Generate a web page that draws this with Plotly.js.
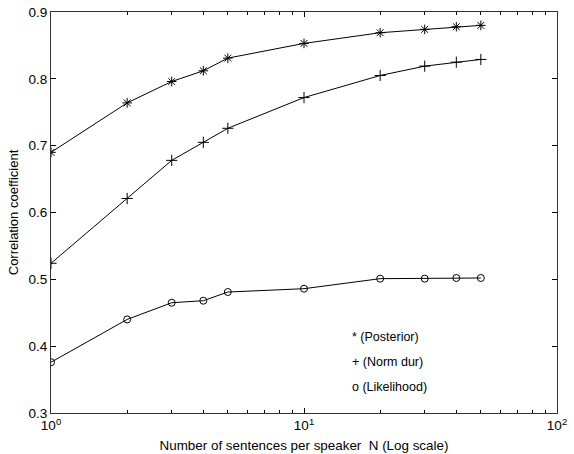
<!DOCTYPE html>
<html>
<head>
<meta charset="utf-8">
<script src="https://cdn.plot.ly/plotly-3.0.1.min.js"></script>
<style>html,body{margin:0;padding:0;background:#fff;}#chart{width:574px;height:454px;}</style>
</head>
<body>
<div id="chart"></div>
<script>
const sentences = [1, 2, 3, 4, 5, 10, 20, 30, 40, 50];
const posterior = [0.690, 0.764, 0.796, 0.812, 0.831, 0.853, 0.869, 0.874, 0.878, 0.880];
const normDur = [0.524, 0.621, 0.678, 0.705, 0.726, 0.772, 0.805, 0.819, 0.825, 0.829];
const likelihood = [0.376, 0.440, 0.465, 0.468, 0.481, 0.486, 0.501, 0.501, 0.502, 0.502];
const xTickVals = [1, 10, 100];
const xTickText = ['10<sup>0</sup>', '10<sup>1</sup>', '10<sup>2</sup>'];
const xMinorVals = [2, 3, 4, 5, 6, 7, 8, 9, 20, 30, 40, 50, 60, 70, 80, 90];
const yTickVals = [0.3, 0.4, 0.5, 0.6, 0.7, 0.8, 0.9];
const legendLabels = ['* (Posterior)', '+ (Norm dur)', 'o (Likelihood)'];

const lineStyle = {color: '#000', width: 1};
function series(y, symbol, size) {
  return {
    x: sentences, y: y, type: 'scatter', mode: 'lines+markers',
    line: lineStyle,
    marker: {symbol: symbol, size: size, color: '#000', line: {color: '#000', width: 1}},
    showlegend: false, hoverinfo: 'skip'
  };
}
const data = [
  series(posterior, 'asterisk-open', 8),
  series(normDur, 'cross-thin-open', 8),
  series(likelihood, 'circle-open', 7)
];

const font = {family: 'Liberation Sans, Arial, sans-serif', color: '#000'};
const layout = {
  width: 574, height: 454,
  margin: {l: 51, r: 17, t: 12, b: 41},
  paper_bgcolor: '#fff', plot_bgcolor: '#fff',
  font: Object.assign({size: 13}, font),
  xaxis: {
    type: 'log', range: [0, 2],
    tickmode: 'array', tickvals: xTickVals, ticktext: xTickText,
    ticks: 'inside', ticklen: 5, tickcolor: '#000', tickwidth: 1,
    minor: {ticks: 'inside', ticklen: 3, tickcolor: '#000', tickmode: 'array', tickvals: xMinorVals, showgrid: false},
    showline: true, linecolor: '#333', linewidth: 1, mirror: 'ticks',
    showgrid: false, zeroline: false,
    tickfont: Object.assign({size: 13.5}, font),
    title: {text: 'Number of sentences per speaker  N (Log scale)', font: Object.assign({size: 13.4}, font), standoff: 8}
  },
  yaxis: {
    range: [0.3, 0.9],
    tickmode: 'array', tickvals: yTickVals,
    ticktext: yTickVals.map(v => v.toFixed(1)),
    ticks: 'inside', ticklen: 5, tickcolor: '#000', tickwidth: 1,
    showline: true, linecolor: '#333', linewidth: 1, mirror: 'ticks',
    showgrid: false, zeroline: false,
    tickfont: Object.assign({size: 13.5}, font),
    title: {text: 'Correlation coefficient', font: Object.assign({size: 13}, font), standoff: 6}
  },
  annotations: legendLabels.map((t, i) => ({
    text: t, xref: 'paper', yref: 'paper',
    x: (350 - 51) / 506, y: 1 - ([337, 362, 387][i] - 12) / 401,
    xanchor: 'left', yanchor: 'middle', showarrow: false,
    font: Object.assign({size: 12.5}, font)
  }))
};

Plotly.newPlot('chart', data, layout, {staticPlot: true, displayModeBar: false});
</script>
</body>
</html>
